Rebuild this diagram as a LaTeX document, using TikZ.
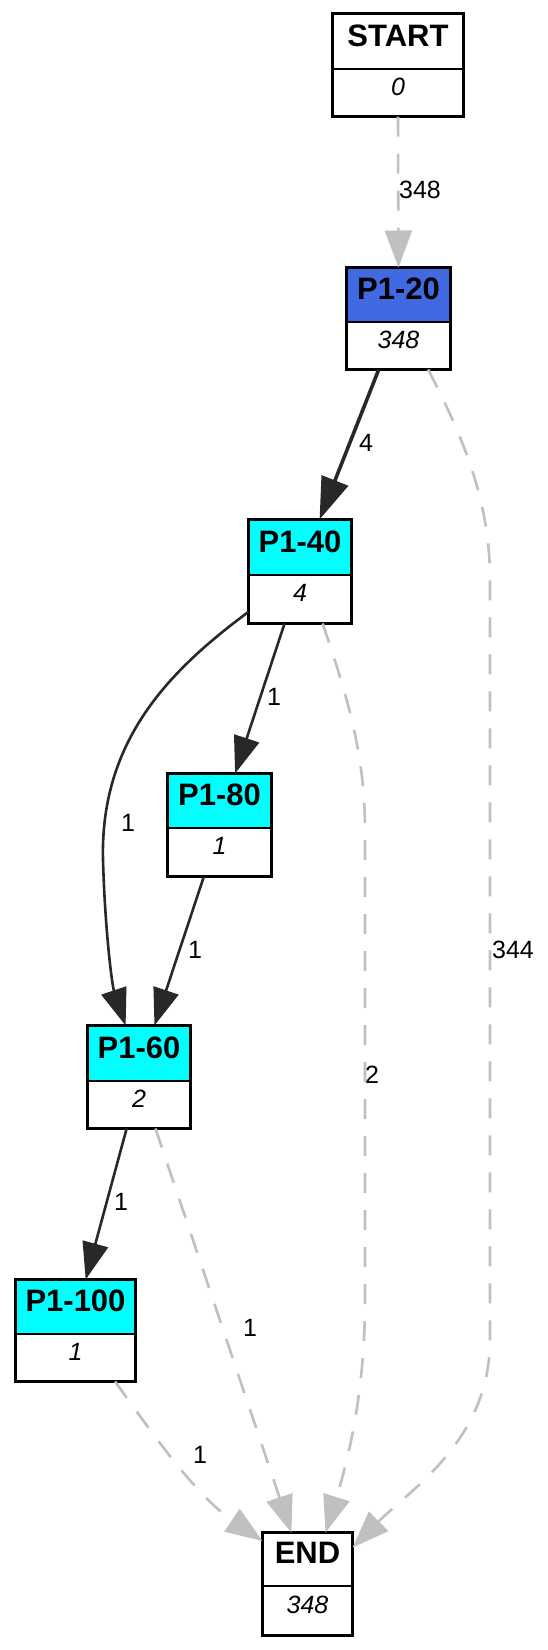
\documentclass[tikz,border=0pt]{standalone}
\usepackage{fontspec}
\setmainfont{Liberation Sans}
\usetikzlibrary{arrows.meta,calc}
\definecolor{darkedge}{RGB}{40,40,40}
\definecolor{grayedge}{RGB}{192,192,192}
\definecolor{royal}{RGB}{65,105,225}
\definecolor{cyanfill}{RGB}{0,255,255}
\tikzset{
  titlebox/.style={draw=black, line width=2.7pt, inner sep=0pt, outer sep=0pt, anchor=north west,
    font=\fontsize{31}{36}\selectfont\bfseries},
  valbox/.style={draw=black, line width=2.7pt, inner sep=0pt, outer sep=0pt, anchor=north west,
    fill=white, font=\fontsize{25}{30}\selectfont\itshape},
  dedge/.style={draw=darkedge, line width=2.6pt, -{Triangle[length=37pt,width=26pt]}},
  dedgebold/.style={draw=darkedge, line width=3.6pt, -{Triangle[length=42pt,width=28pt]}},
  gedge/.style={draw=grayedge, line width=2.6pt, dash pattern=on 20pt off 17pt,
    -{Triangle[length=37pt,width=27pt]}},
  elabel/.style={font=\fontsize{25}{30}\selectfont, inner sep=0pt, text=black},
}
\newcommand{\up}[1]{\raisebox{12pt}{#1}}
\begin{document}
\begin{tikzpicture}[x=1pt,y=-1pt]
\useasboundingbox[fill=white] (0,0) rectangle (547,1650);

% nodes
\node[titlebox, fill=white, minimum width=131pt, minimum height=55.5pt] (start) at (332.5,13.5) {\up{START}};
\node[valbox, minimum width=131pt, minimum height=47.5pt] (startv) at (332.5,69) {\up{0}};

\node[titlebox, fill=royal, minimum width=104pt, minimum height=54.5pt] (p20) at (346.5,267.5) {\up{P1-20}};
\node[valbox, minimum width=104pt, minimum height=47.5pt] (p20v) at (346.5,322) {\up{348}};

\node[titlebox, fill=cyanfill, minimum width=103pt, minimum height=55.5pt] (p40) at (248.5,519.5) {\up{P1-40}};
\node[valbox, minimum width=103pt, minimum height=48.5pt] (p40v) at (248.5,575) {\up{4}};

\node[titlebox, fill=cyanfill, minimum width=104pt, minimum height=54.5pt] (p80) at (167.5,773.5) {\up{P1-80}};
\node[valbox, minimum width=104pt, minimum height=48.5pt] (p80v) at (167.5,828) {\up{1}};

\node[titlebox, fill=cyanfill, minimum width=103pt, minimum height=55.5pt] (p60) at (87.5,1025.5) {\up{P1-60}};
\node[valbox, minimum width=103pt, minimum height=47.5pt] (p60v) at (87.5,1081) {\up{2}};

\node[titlebox, fill=cyanfill, minimum width=120pt, minimum height=54.5pt] (p100) at (15.5,1279.5) {\up{P1-100}};
\node[valbox, minimum width=120pt, minimum height=47.5pt] (p100v) at (15.5,1334) {\up{1}};

\node[titlebox, fill=white, minimum width=90pt, minimum height=53.5pt] (end) at (262.5,1532.5) {\up{END}};
\node[valbox, minimum width=90pt, minimum height=49.5pt] (endv) at (262.5,1586) {\up{348}};

% edges
\draw[gedge] ($(startv.south west)!0.5!(startv.south east)$) -- ($(p20.north west)!0.5!(p20.north east)$);
\node[elabel] (l1) at (420,190) {348};

\draw[dedgebold] ($(p20v.south west)!0.31!(p20v.south east)$) -- ($(p40.north west)!0.69!(p40.north east)$);
\node[elabel] (l2) at (366,443) {4};

\draw[gedge] ($(p20v.south west)!0.785!(p20v.south east)$) .. controls (470,450) and (490,510) .. (490,580)
  -- (490,1340) .. controls (490,1440) and (410,1490) .. ($(end.north east)+(0,15)$);
\node[elabel] (l3) at (513,950) {344};

\draw[dedge] ($(p40v.south west)!0.35!(p40v.south east)$) -- ($(p80.north west)!0.65!(p80.north east)$);
\node[elabel] (l4) at (274,697) {1};

\draw[dedge] ($(p40v.north west)!0.76!(p40v.south west)$) .. controls (170,670) and (100,740) .. (103,860)
  .. controls (105,930) and (112,985) .. ($(p60.north west)!0.37!(p60.north east)$);
\node[elabel] (l5) at (128,823) {1};

\draw[dedge] ($(p80v.south west)!0.35!(p80v.south east)$) -- ($(p60.north west)!0.65!(p60.north east)$);
\node[elabel] (l6) at (195,950) {1};

\draw[gedge] ($(p40v.south west)!0.72!(p40v.south east)$) .. controls (345,690) and (365,750) .. (365,830)
  -- (365,1300) .. controls (365,1400) and (345,1470) .. ($(end.north west)!0.70!(end.north east)$);
\node[elabel] (l7) at (372,1075) {2};

\draw[dedge] ($(p60v.south west)!0.38!(p60v.south east)$) -- ($(p100.north west)!0.585!(p100.north east)$);
\node[elabel] (l8) at (121,1202) {1};

\draw[gedge] ($(p60v.south west)!0.66!(p60v.south east)$) -- ($(end.north west)!0.32!(end.north east)$);
\node[elabel] (l9) at (250,1328) {1};

\draw[gedge] ($(p100v.south west)!0.83!(p100v.south east)$) .. controls (150,1430) and (195,1495) .. ($(end.north west)+(0,8.5)$);
\node[elabel] (l10) at (200,1455) {1};
\end{tikzpicture}
\end{document}
